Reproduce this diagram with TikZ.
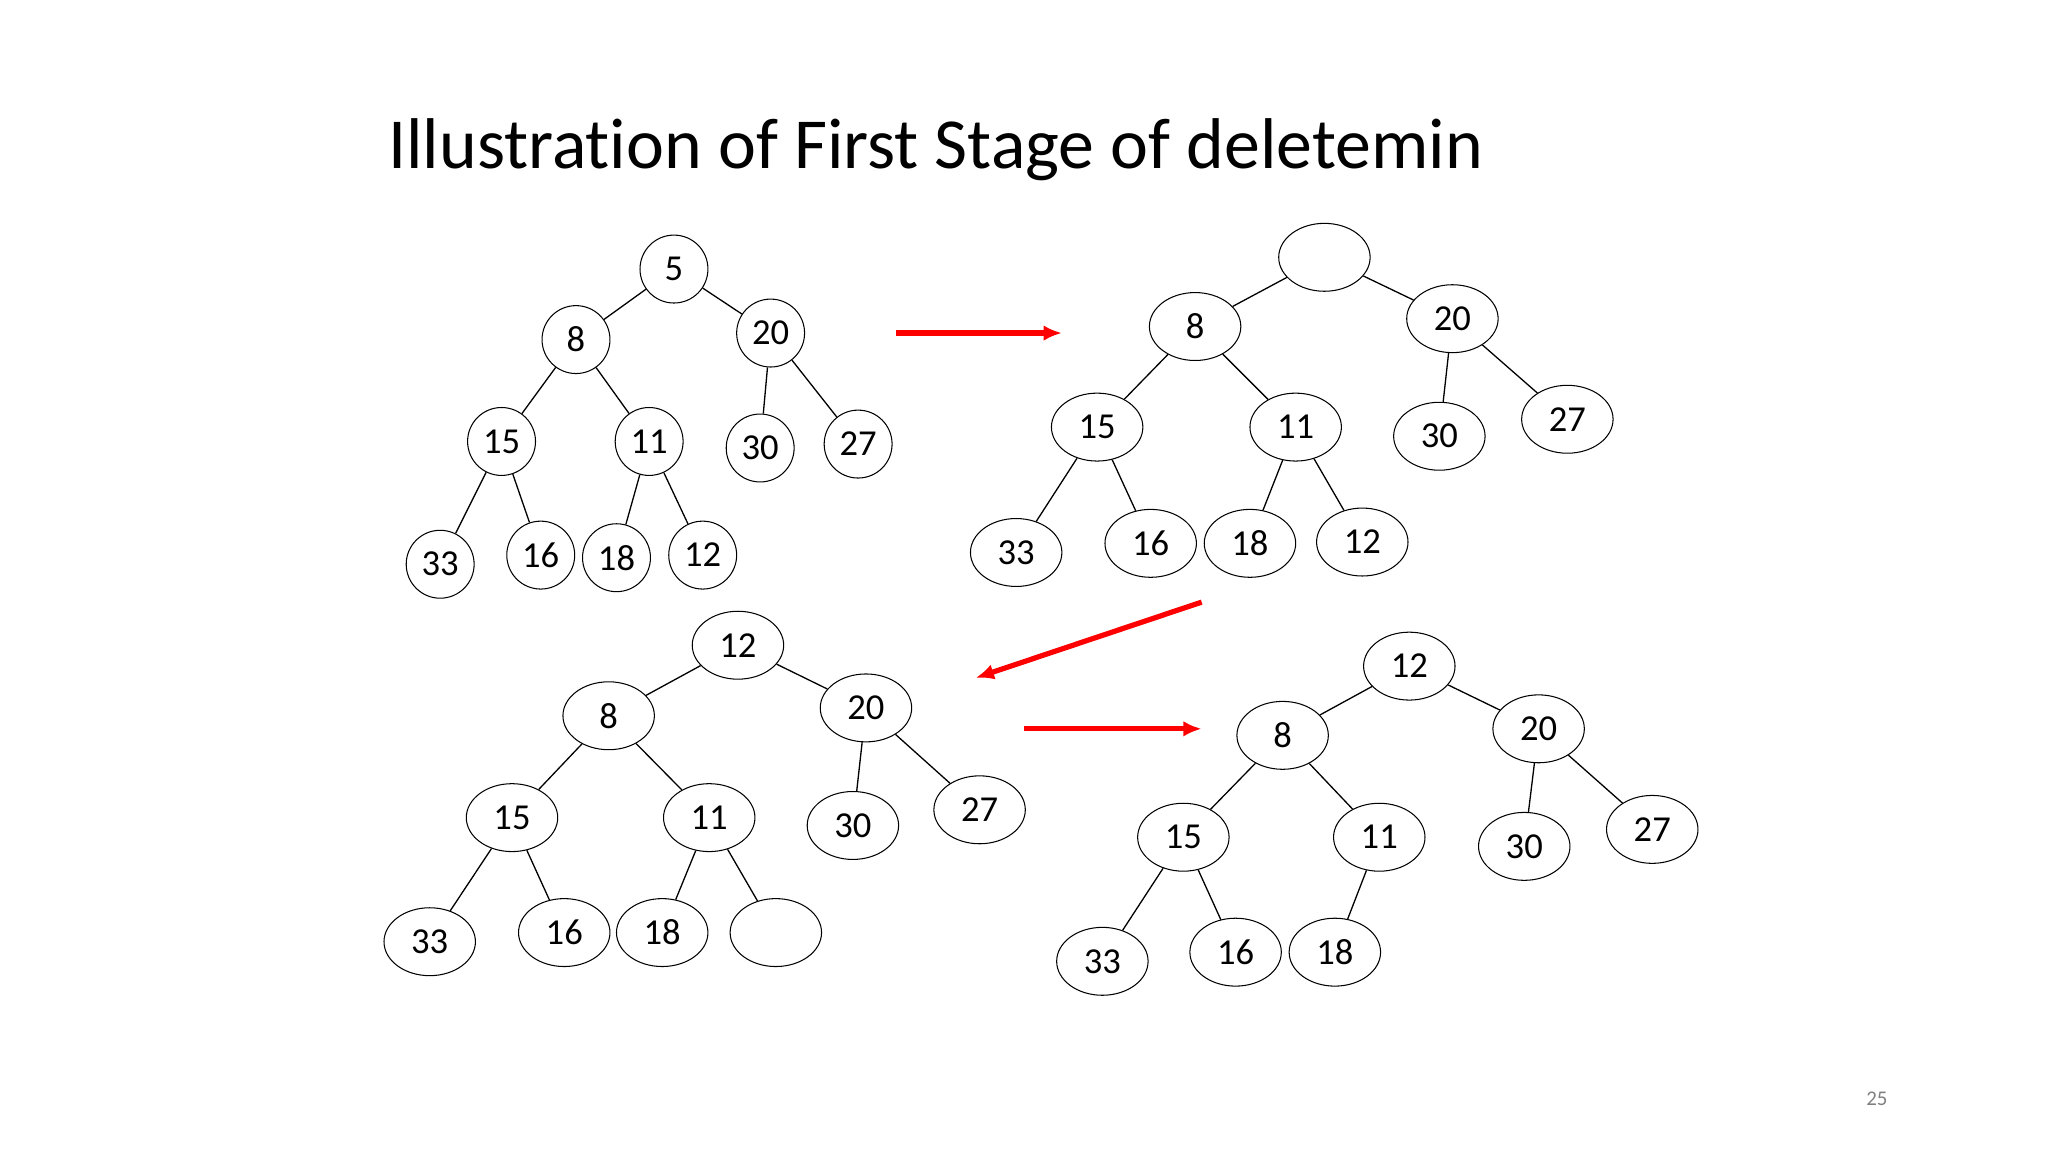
\documentclass[tikz,border=0pt]{standalone}
\usepackage{fontspec}
\setmainfont{Carlito}[Ligatures=NoCommon]
\usetikzlibrary{shapes.geometric,arrows.meta}
\begin{document}
\begin{tikzpicture}[x=0.5pt,y=-0.5pt,
  cn/.style={draw,circle,minimum size=26pt,inner sep=0pt,font=\fontsize{14}{15}\selectfont},
  en/.style={draw,ellipse,minimum width=35pt,minimum height=26pt,inner sep=0pt,font=\fontsize{14}{15}\selectfont},
  ed/.style={draw,line width=0.5pt},
  ra/.style={draw=red,line width=2pt,-{Latex[length=7pt,width=6pt]}}]
\useasboundingbox (0,0) rectangle (1568,882);
\node[anchor=west,inner sep=0pt,font=\fontsize{27.5}{30}\selectfont] (title) at (297,115) {Illustration of First Stage of deletemin};
\node[text=gray,font=\fontsize{8}{9}\selectfont] (pg) at (1437,841) {25};
% tree 1
\foreach \n/\t/\x/\y in {a5/5/516/206,a8/8/441/260,a20/20/590/255,a15/15/384/338,a11/11/497/338,a30/30/582/343,a27/27/657/340,a33/33/337/432,a16/16/414/425,a18/18/472/427,a12/12/538/425}
  \node[cn] (\n) at (\x,\y) {\t};
\foreach \a/\b in {a5/a8,a5/a20,a8/a15,a8/a11,a20/a30,a20/a27,a15/a33,a15/a16,a11/a18,a11/a12}
  \draw[ed] (\a) -- (\b);
% tree 2
\foreach \n/\t/\x/\y in {br/{}/1014/197,b8/8/915/250,b20/20/1112/244,b15/15/840/327,b11/11/992/327,b30/30/1102/334,b27/27/1200/321,b33/33/778/423,b16/16/881/416,b18/18/957/416,b12/12/1043/415}
  \node[en] (\n) at (\x,\y) {\t};
\foreach \a/\b in {br/b8,br/b20,b8/b15,b8/b11,b20/b30,b20/b27,b15/b33,b15/b16,b11/b18,b11/b12}
  \draw[ed] (\a) -- (\b);
% tree 3
\foreach \n/\t/\x/\y in {c12/12/565/494,c8/8/466/548,c20/20/663/542,c15/15/392/626,c11/11/543/626,c30/30/653/632,c27/27/750/620,c33/33/329/721,c16/16/432/714,c18/18/507/714,ce/{}/594/714}
  \node[en] (\n) at (\x,\y) {\t};
\foreach \a/\b in {c12/c8,c12/c20,c8/c15,c8/c11,c20/c30,c20/c27,c15/c33,c15/c16,c11/c18,c11/ce}
  \draw[ed] (\a) -- (\b);
% tree 4
\foreach \n/\t/\x/\y in {d12/12/1079/510,d8/8/982/563,d20/20/1178/558,d15/15/906/641,d11/11/1056/641,d30/30/1167/648,d27/27/1265/635,d33/33/844/736,d16/16/946/729,d18/18/1022/729}
  \node[en] (\n) at (\x,\y) {\t};
\foreach \a/\b in {d12/d8,d12/d20,d8/d15,d8/d11,d20/d30,d20/d27,d15/d33,d15/d16,d11/d18}
  \draw[ed] (\a) -- (\b);
% arrows
\coordinate (p1) at (686,255); \coordinate (q1) at (813,255);
\coordinate (p2) at (920,461); \coordinate (q2) at (747,519);
\coordinate (p3) at (784,558); \coordinate (q3) at (920,558);
\draw[ra] (p1) -- (q1);
\draw[ra] (p2) -- (q2);
\draw[ra] (p3) -- (q3);
\end{tikzpicture}
\end{document}
